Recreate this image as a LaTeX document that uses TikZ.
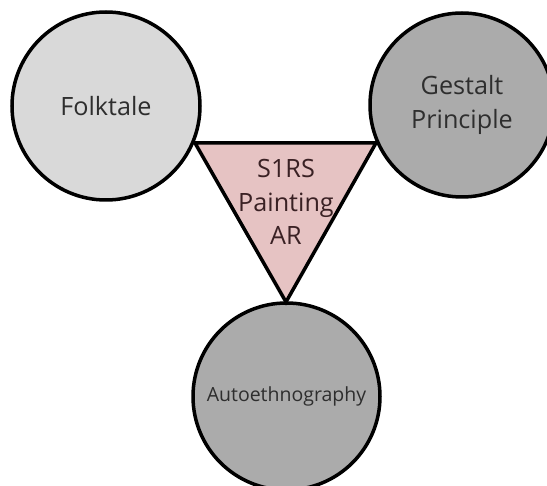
\documentclass[tikz,border=0pt]{standalone}
\usepackage{fontspec}
\setmainfont{Open Sans}
\definecolor{lightfill}{HTML}{D9D9D9}
\definecolor{darkfill}{HTML}{ABABAB}
\definecolor{pinkfill}{HTML}{E6C3C3}
\definecolor{textgray}{HTML}{2E2E2E}
\definecolor{texttri}{HTML}{3A2124}
\begin{document}
\begin{tikzpicture}[x=1pt,y=-1pt,
  ring/.style={circle, draw=black, line width=3.5pt, inner sep=0pt, text=textgray, align=center},
  bigtext/.style={font=\fontsize{25.2}{33.5}\selectfont},
  smalltext/.style={font=\fontsize{19.5}{24}\selectfont}]
\useasboundingbox (0,0) rectangle (547,486);
\node[ring, fill=lightfill, minimum size=188pt, bigtext] (folk) at (106,106) {Folktale};
\node[ring, fill=darkfill, minimum size=184pt, bigtext] (gest) at (462,105) {Gestalt\\Principle};
\node[ring, fill=darkfill, minimum size=187pt, smalltext] (auto) at (286.5,396.5) {Autoethnography};
\coordinate (tl) at (195,143);
\coordinate (tr) at (376,143);
\coordinate (tb) at (286,302);
\draw[line width=3.5pt, fill=pinkfill, line join=miter] (tl) -- (tr) -- (tb) -- cycle;
\node[bigtext, text=texttri, align=center, inner sep=0pt] (s1rs) at (286,202) {S1RS\\Painting\\AR};
\end{tikzpicture}
\end{document}
